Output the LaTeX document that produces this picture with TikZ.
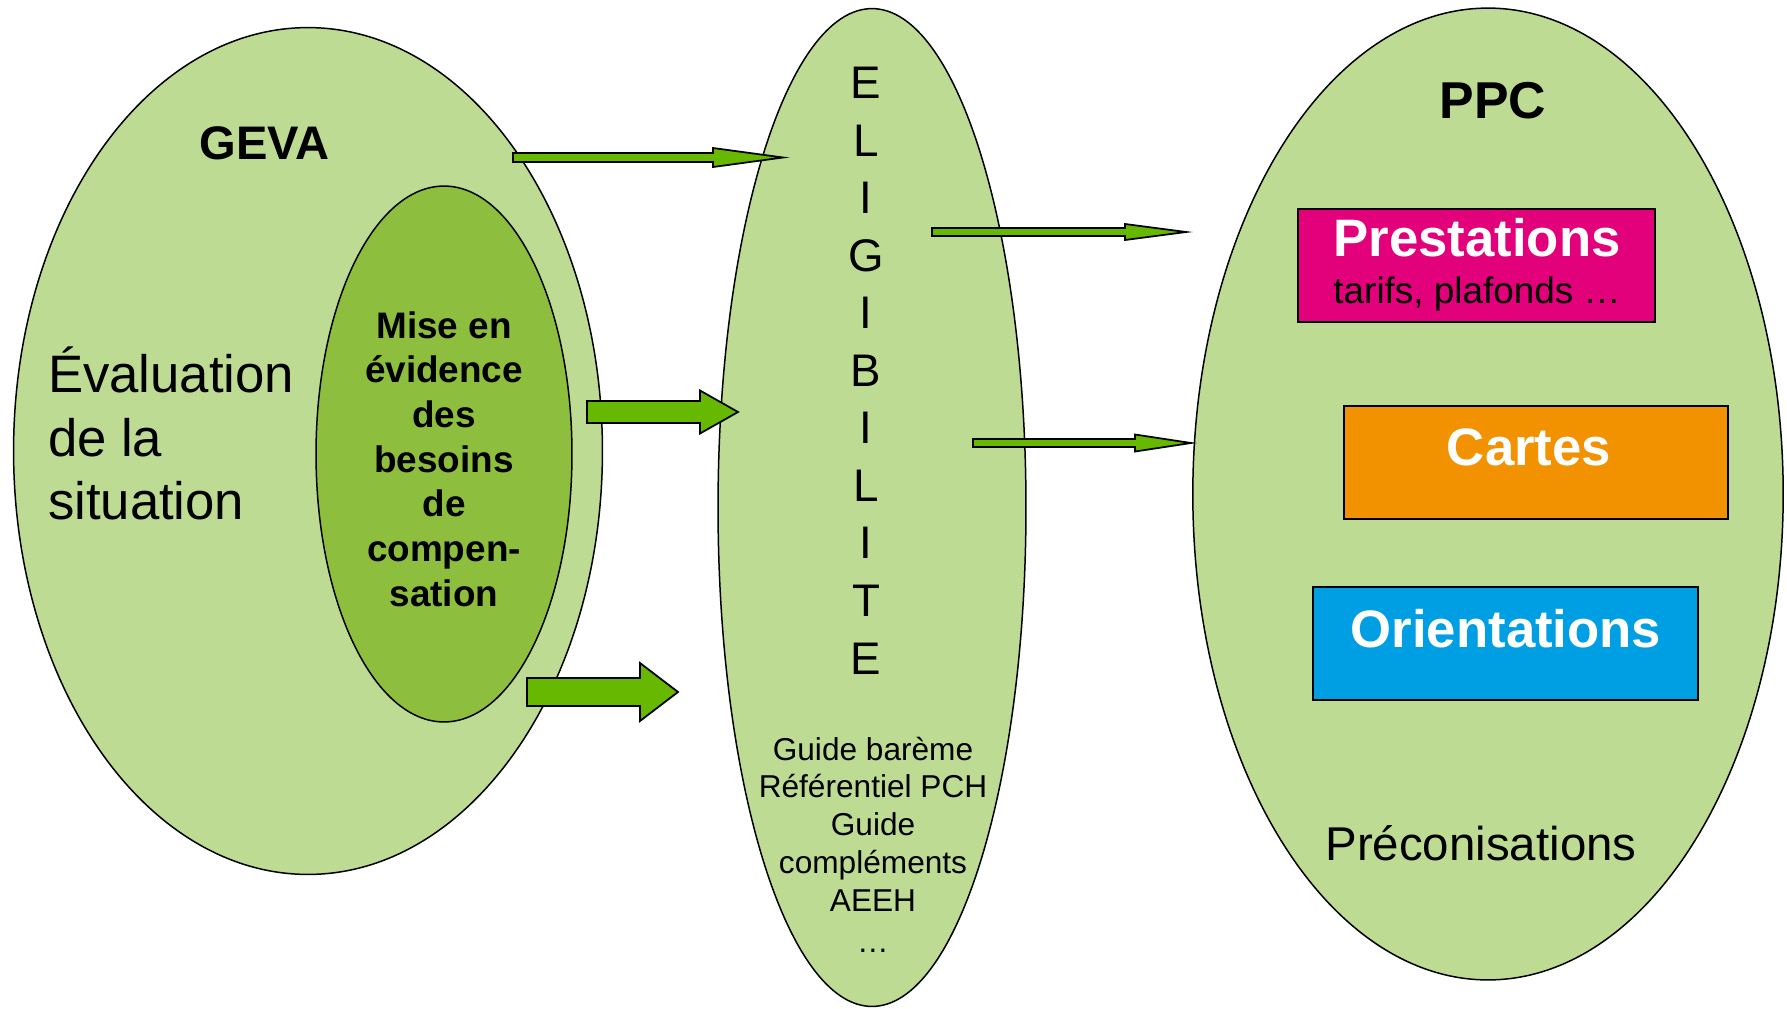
\documentclass[tikz,border=0pt]{standalone}
\usepackage{fontspec}
\setmainfont{Liberation Sans}
\usetikzlibrary{shapes.geometric,calc}
\definecolor{lightgreen}{HTML}{BDDB92}
\definecolor{midgreen}{HTML}{8DBE3E}
\definecolor{arrowgreen}{HTML}{66B800}
\definecolor{magentabox}{HTML}{E3007B}
\definecolor{orangebox}{HTML}{F39200}
\definecolor{bluebox}{HTML}{009FE3}
\newcommand\barrow[5]{\draw[blockarrow] ($(#1)+(0,#3)$) -- ($(#2)+(-#5,#3)$) -- ($(#2)+(-#5,#4)$) -- (#2) -- ($(#2)+(-#5,-#4)$) -- ($(#2)+(-#5,-#3)$) -- ($(#1)+(0,-#3)$) -- cycle;}
\tikzset{
  bigell/.style={ellipse, draw=black, line width=0.85pt, fill=lightgreen, inner sep=0pt},
  innerell/.style={ellipse, draw=black, line width=0.85pt, fill=midgreen, inner sep=0pt},
  blockarrow/.style={draw=black, line width=1pt, fill=arrowgreen, line join=miter},
  colbox/.style={draw=black, line width=1pt, inner sep=0pt},
  txt/.style={inner sep=0pt, outer sep=0pt, align=center},
}
\begin{document}
\begin{tikzpicture}[x=0.02cm, y=-0.02cm]
\useasboundingbox (0,0) rectangle (1787,1008);
% ellipses
\node[bigell, minimum width=11.78cm, minimum height=16.94cm] (geva) at (308,451) {};
\node[innerell, minimum width=5.12cm, minimum height=10.72cm] (besoins) at (444,454) {};
\node[bigell, minimum width=6.16cm, minimum height=19.96cm] (elig) at (872,507.5) {};
\node[bigell, minimum width=11.81cm, minimum height=19.44cm] (ppc) at (1488,494) {};
% boxes
\node[colbox, fill=magentabox, minimum width=7.14cm, minimum height=2.26cm] (prest) at (1476.5,265.5) {};
\node[colbox, fill=orangebox, minimum width=7.68cm, minimum height=2.27cm] (cartes) at (1536,462.5) {};
\node[colbox, fill=bluebox, minimum width=7.7cm, minimum height=2.26cm] (orient) at (1505.5,643.5) {};
% texts
\node[txt, anchor=base, font=\fontsize{26.8}{31}\selectfont\bfseries] (tgeva) at (264.5,159.6) {GEVA};
\node[txt, anchor=base west, align=left, font=\fontsize{30}{36.2}\selectfont] (teval) at (48,519.6) {Évaluation\\de la\\situation};
\node[txt, anchor=base, font=\fontsize{21}{25.4}\selectfont\bfseries] (tbes) at (444,606) {Mise en\\évidence\\des\\besoins\\de\\compen-\\sation};
\node[txt, anchor=base, font=\fontsize{26}{32.75}\selectfont] (telig) at (866,674) {E\\L\\I\\G\\I\\B\\I\\L\\I\\T\\E};
\node[txt, anchor=base, font=\fontsize{18}{21.5}\selectfont] (tguide) at (873,952.5) {Guide barème\\Référentiel PCH\\Guide\\compléments\\AEEH\\[2pt]…};
\node[txt, anchor=base, font=\fontsize{29.5}{35}\selectfont\bfseries] (tppc) at (1493,118.5) {PPC};
\node[txt, anchor=base, text=white, font=\fontsize{30}{36}\selectfont\bfseries] (tprest) at (1477,256.5) {Prestations};
\node[txt, anchor=base, font=\fontsize{21}{25}\selectfont] (ttarif) at (1477,303) {tarifs, plafonds …};
\node[txt, anchor=base, text=white, font=\fontsize{30}{36}\selectfont\bfseries] (tcartes) at (1529,465) {Cartes};
\node[txt, anchor=base, text=white, font=\fontsize{30}{36}\selectfont\bfseries] (torient) at (1506,647) {Orientations};
\node[txt, anchor=base, font=\fontsize{27}{32}\selectfont] (tprec) at (1481,860.5) {Préconisations};
% arrow end points
\coordinate (a1s) at (513,157.5);
\coordinate (a1e) at (783,157.5);
\coordinate (a2s) at (932,232);
\coordinate (a2e) at (1186,232);
\coordinate (a3s) at (973,443);
\coordinate (a3e) at (1191,443);
\coordinate (aAs) at (587,412);
\coordinate (aAe) at (738,412);
\coordinate (aBs) at (527,692);
\coordinate (aBe) at (678,692);
% arrows
\barrow{a1s}{a1e}{4.5}{9.5}{70}
\barrow{a2s}{a2e}{4}{8}{61}
\barrow{a3s}{a3e}{4}{8.5}{56}
\barrow{aAs}{aAe}{11}{21.5}{38}
\barrow{aBs}{aBe}{14}{29}{38}
\end{tikzpicture}
\end{document}
